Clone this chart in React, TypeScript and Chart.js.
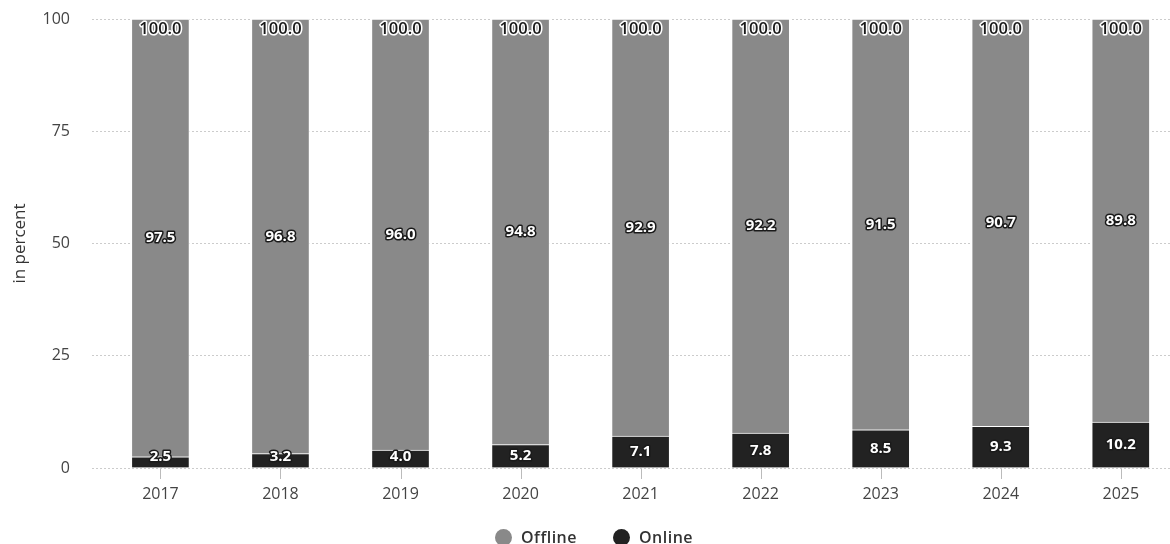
import React, { useEffect, useRef } from 'react';
import { Chart, registerables } from 'chart.js';

Chart.register(...registerables);

const years = ['2017', '2018', '2019', '2020', '2021', '2022', '2023', '2024', '2025'];
const offline = [97.5, 96.8, 96.0, 94.8, 92.9, 92.2, 91.5, 90.7, 89.8];
const online = [2.5, 3.2, 4.0, 5.2, 7.1, 7.8, 8.5, 9.3, 10.2];
const totals = [100.0, 100.0, 100.0, 100.0, 100.0, 100.0, 100.0, 100.0, 100.0];
const yTicks = [0, 25, 50, 75, 100];
const seriesNames = ['Offline', 'Online'];

const OFFLINE_COLOR = '#898989';
const ONLINE_COLOR = '#222222';
const FONT = "'Open Sans', 'Noto Sans', sans-serif";

function drawLabel(ctx: CanvasRenderingContext2D, text: string, x: number, y: number, font: string, fill: string, stroke: string) {
  ctx.font = font;
  ctx.lineWidth = 3;
  ctx.strokeStyle = stroke;
  ctx.lineJoin = 'round';
  ctx.strokeText(text, x, y);
  ctx.fillStyle = fill;
  ctx.fillText(text, x, y);
}

const labelPlugin = {
  id: 'barLabels',
  afterDatasetsDraw(chart: any) {
    const ctx = chart.ctx as CanvasRenderingContext2D;
    const onMeta = chart.getDatasetMeta(0);
    const offMeta = chart.getDatasetMeta(1);
    ctx.save();
    ctx.textAlign = 'center';
    ctx.textBaseline = 'middle';
    offMeta.data.forEach((bar: any, i: number) => {
      const { x, y, base } = bar.getProps(['x', 'y', 'base'], true);
      drawLabel(ctx, offline[i].toFixed(1), x, (y + base) / 2, `bold 15px ${FONT}`, '#ffffff', '#1a1a1a');
      drawLabel(ctx, totals[i].toFixed(1), x, y + 10.5, `600 16.5px ${FONT}`, '#1a1a1a', '#ffffff');
    });
    onMeta.data.forEach((bar: any, i: number) => {
      const { x, y, base } = bar.getProps(['x', 'y', 'base'], true);
      const cy = Math.min((y + base) / 2, base - 11);
      drawLabel(ctx, online[i].toFixed(1), x, cy, `bold 15px ${FONT}`, '#ffffff', '#1a1a1a');
    });
    ctx.restore();
  },
};

const tickMarkPlugin = {
  id: 'xTickMarks',
  afterDraw(chart: any) {
    const ctx = chart.ctx as CanvasRenderingContext2D;
    const xs = chart.scales.x;
    const bottom = Math.round(chart.chartArea.bottom);
    ctx.save();
    ctx.fillStyle = '#bbbbbb';
    for (let i = 0; i < years.length; i++) {
      const px = Math.round(xs.getPixelForValue(i));
      ctx.fillRect(px, bottom + 1, 1, 10);
    }
    ctx.restore();
  },
};

export default function App() {
  const canvasRef = useRef<HTMLCanvasElement | null>(null);

  useEffect(() => {
    if (!canvasRef.current) return;
    const chart = new Chart(canvasRef.current, {
      type: 'bar',
      data: {
        datasets: [
          {
            label: seriesNames[1],
            data: online.map((v, i) => ({ x: i, y: v })),
            backgroundColor: ONLINE_COLOR,
            borderColor: '#ffffff',
            borderWidth: 1,
            barThickness: 58,
          },
          {
            label: seriesNames[0],
            data: offline.map((v, i) => ({ x: i, y: v })),
            backgroundColor: OFFLINE_COLOR,
            borderColor: '#ffffff',
            borderWidth: 1,
            barThickness: 58,
          },
        ],
      } as any,
      options: {
        animation: false,
        responsive: false,
        maintainAspectRatio: false,
        layout: { padding: { left: 0, right: 0, top: 19, bottom: 36 } },
        plugins: {
          legend: { display: false },
          tooltip: { enabled: false },
        },
        scales: {
          x: {
            type: 'linear',
            min: -0.57,
            max: 8.41,
            stacked: true,
            offset: false,
            grid: { display: false, drawTicks: false },
            border: { display: false },
            ticks: {
              stepSize: 1,
              includeBounds: false,
              autoSkip: false,
              maxRotation: 0,
              padding: 17,
              color: '#444444',
              font: { family: FONT, size: 16 },
              callback: (v: any) => years[Math.round(Number(v))] ?? '',
            },
            afterFit: (s: any) => { s.height = 40; },
          },
          y: {
            min: yTicks[0],
            max: yTicks[yTicks.length - 1],
            stacked: true,
            grid: { color: '#cccccc', drawTicks: true, tickLength: 20, tickColor: 'rgba(0,0,0,0)' },
            border: { display: false, dash: [2, 2] },
            ticks: {
              stepSize: 25,
              padding: 2,
              color: '#444444',
              font: { family: FONT, size: 16 },
            },
            title: {
              display: true,
              text: 'in percent',
              color: '#333333',
              font: { family: FONT, size: 17 },
              padding: { top: 10, bottom: 0 },
            },
            afterFit: (s: any) => { s.width = 92; },
          },
        },
      } as any,
      plugins: [labelPlugin, tickMarkPlugin],
    });
    return () => chart.destroy();
  }, []);

  const legendItems = [
    { name: seriesNames[0], color: OFFLINE_COLOR },
    { name: seriesNames[1], color: ONLINE_COLOR },
  ];

  return (
    <div style={{ position: 'fixed', left: 0, top: 0, width: 1170, height: 544, background: '#fff' }}>
      <canvas ref={canvasRef} width={1170} height={544} style={{ display: 'block', width: 1170, height: 544 }} />
      <div
        style={{
          position: 'absolute',
          left: 495,
          top: 526,
          display: 'flex',
          alignItems: 'center',
          fontFamily: FONT,
          fontSize: 16,
          fontWeight: 600,
          letterSpacing: '0.5px',
          color: '#333',
          lineHeight: '22px',
          whiteSpace: 'nowrap',
        }}
      >
        {legendItems.map((it, i) => (
          <div key={it.name} style={{ display: 'flex', alignItems: 'center', marginLeft: i === 0 ? 0 : 36 }}>
            <span style={{ width: 17, height: 17, borderRadius: '50%', background: it.color, display: 'inline-block', marginRight: 9 }} />
            <span>{it.name}</span>
          </div>
        ))}
      </div>
    </div>
  );
}
